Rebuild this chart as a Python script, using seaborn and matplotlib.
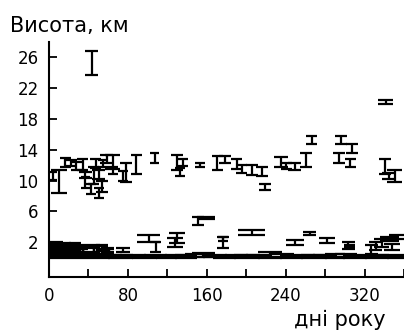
import matplotlib
matplotlib.use('Agg')
import matplotlib.pyplot as plt
import seaborn as sns

# upper layer: day interval start/end, height interval low/high (km)
up_start = [0, 2, 11, 17, 22, 28, 30, 32, 37, 38, 40, 42, 44, 46, 48, 50, 52, 57, 60, 70,
            72, 83, 102, 124, 130, 128, 148, 165, 172, 185, 190, 200, 210, 213, 228, 235,
            242, 255, 261, 288, 290, 301, 300, 334, 335, 338, 343]
up_end = [8, 18, 22, 28, 33, 40, 44, 42, 50, 48, 51, 53, 57, 56, 60, 60, 65, 72, 70, 80,
          84, 94, 112, 136, 141, 138, 158, 176, 185, 196, 201, 212, 222, 225, 242, 246,
          256, 267, 272, 300, 302, 313, 311, 349, 347, 352, 358]
up_low = [10.1, 8.4, 11.7, 11.9, 11.3, 11.3, 10.3, 9.0, 23.6, 8.3, 9.6, 11.6, 10.2, 7.8,
          8.5, 11.8, 12.3, 11.5, 10.8, 10.0, 9.8, 10.9, 12.2, 11.3, 11.9, 10.6, 11.7, 11.3,
          12.2, 11.5, 11.0, 10.7, 10.6, 8.8, 11.8, 11.5, 11.3, 11.7, 14.7, 12.2, 14.7, 13.5,
          11.7, 19.9, 10.9, 10.2, 9.8]
up_high = [11.1, 11.3, 12.9, 12.7, 12.4, 12.8, 11.1, 10.5, 26.8, 9.6, 11.8, 12.8, 11.3, 9.0,
           10.0, 12.6, 13.3, 13.3, 11.8, 11.2, 12.2, 13.3, 13.5, 13.3, 12.8, 11.6, 12.3, 13.2,
           13.2, 12.8, 12.0, 12.0, 11.7, 9.5, 13.0, 12.2, 12.2, 13.5, 15.7, 13.5, 15.7, 14.7,
           12.8, 20.4, 12.8, 11.0, 11.3]

# lower layer
low_start = [0, 0, 0, 0, 0, 1, 10, 10, 10, 10, 10, 20, 20, 20, 20, 20, 28, 28, 28, 28,
             40, 40, 40, 48, 48, 48, 55, 55, 68,
             89, 102, 120, 122, 145, 150, 170, 171, 192, 240, 258, 274, 297, 299,
             320, 325, 330, 336, 345, 340]
low_end = [12, 12, 12, 12, 12, 14, 22, 22, 22, 22, 22, 32, 32, 32, 32, 32, 40, 40, 40, 40,
           52, 52, 52, 60, 60, 60, 66, 66, 82,
           113, 114, 136, 138, 157, 168, 183, 182, 219, 259, 271, 290, 310, 310,
           334, 338, 345, 355, 360, 356]
low_low = [0.1, 0.3, 0.5, 0.7, 0.9, 0.5, 0.1, 0.3, 0.5, 0.7, 0.9, 0.1, 0.3, 0.5, 0.7, 0.9,
           0.1, 0.3, 0.5, 0.7,
           0.3, 0.5, 0.7, 0.3, 0.5, 0.9, 0.6, 0.8, 0.8,
           2.0, 0.8, 1.4, 1.9, 4.3, 5.0, 1.3, 2.2, 3.0, 1.7, 2.9, 1.9, 1.1, 1.4,
           0.5, 1.0, 1.4, 2.2, 2.5, 1.0]
low_high = [1.1, 1.3, 1.5, 1.7, 1.9, 2.1, 1.1, 1.3, 1.5, 1.7, 1.9, 1.1, 1.3, 1.5, 1.7, 1.9,
            1.1, 1.3, 1.5, 1.7,
            1.3, 1.5, 1.7, 1.1, 1.5, 1.7, 1.3, 1.1, 1.3,
            2.9, 2.0, 2.6, 3.2, 5.3, 5.3, 2.7, 2.7, 3.6, 2.3, 3.3, 2.6, 2.0, 1.7,
            1.6, 2.0, 2.5, 2.7, 3.0, 1.8]

# near-ground layer
base_start = [0, 40, 60, 84, 108, 128, 145, 166, 188, 212, 234, 256, 280, 298, 320, 343,
              20, 50, 72, 96, 118, 138, 156, 178, 200, 224, 246, 268, 290, 310, 332]
base_end = [40, 62, 85, 110, 130, 150, 168, 190, 214, 236, 258, 282, 300, 322, 345, 360,
            52, 74, 98, 120, 140, 158, 180, 202, 226, 248, 270, 292, 312, 334, 360]
base_low = [0.0, 0.0, 0.0, 0.0, 0.0, 0.0, 0.1, 0.0, 0.0, 0.0, 0.0, 0.0, 0.0, 0.0, 0.0, 0.0,
            0.1, 0.1, 0.1, 0.1, 0.1, 0.1, 0.1, 0.1, 0.1, 0.1, 0.1, 0.1, 0.1, 0.1, 0.1]
base_high = [0.3, 0.3, 0.35, 0.3, 0.3, 0.4, 0.6, 0.3, 0.35, 0.8, 0.3, 0.4, 0.5, 0.3, 0.4, 0.3,
             0.4, 0.4, 0.4, 0.4, 0.4, 0.45, 0.4, 0.4, 0.4, 0.45, 0.4, 0.4, 0.5, 0.4, 0.4]

x_ticks = list(range(0, 361, 40))
x_labels = [str(t) if t % 80 == 0 and t < 360 else '' for t in x_ticks]
y_ticks = [2, 6, 10, 14, 18, 22, 26]

sns.set_style('ticks')
plt.rcParams['font.family'] = ['DejaVu Sans']
plt.rcParams['text.color'] = 'black'

fig = plt.figure(figsize=(4.04, 3.33), dpi=100)
ax = fig.add_axes([0.1213, 0.169, 0.8787, 0.7058])

lw = 1.6
for s, e, lo, hi in [(up_start, up_end, up_low, up_high),
                     (low_start, low_end, low_low, low_high),
                     (base_start, base_end, base_low, base_high)]:
    mid = [(a + b) / 2 for a, b in zip(s, e)]
    ax.vlines(mid, lo, hi, color='black', lw=lw)
    ax.hlines(lo, s, e, color='black', lw=lw)
    ax.hlines(hi, s, e, color='black', lw=lw)

ax.set_xlim(0, 360)
ax.set_ylim(-2.44, 27.95)
ax.set_xticks(x_ticks)
ax.set_xticklabels(x_labels)
ax.set_yticks(y_ticks)
ax.tick_params(direction='in', length=6, width=1.3, labelsize=12, pad=7.5,
               colors='black', labelcolor='black')
sns.despine(ax=ax)
for sp in ['left', 'bottom']:
    ax.spines[sp].set_linewidth(1.5)
    ax.spines[sp].set_color('black')

fig.text(10 / 404, 1 - 32 / 333, 'Висота, км', fontsize=15, va='baseline', ha='left', color='black')
fig.text(386 / 404, 1 - 326 / 333, 'дні року', fontsize=15, va='baseline', ha='right', color='black')

fig.savefig('out.png', dpi=100)
